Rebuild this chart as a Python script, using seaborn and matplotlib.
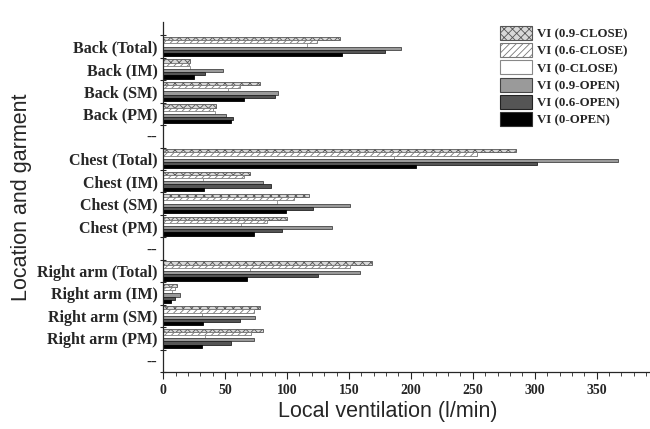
import numpy as np
import pandas as pd
import matplotlib
matplotlib.use("Agg")
import matplotlib.pyplot as plt
import seaborn as sns
from matplotlib.patches import Patch
from matplotlib.ticker import MultipleLocator
from matplotlib.font_manager import FontProperties

nan = np.nan

labels = ["Back (Total)", "Back (IM)", "Back (SM)", "Back (PM)", "--",
          "Chest (Total)", "Chest (IM)", "Chest (SM)", "Chest (PM)", "--",
          "Right arm (Total)", "Right arm (IM)", "Right arm (SM)", "Right arm (PM)", "--"]

series = ["VI (0.9-CLOSE)", "VI (0.6-CLOSE)", "VI (0-CLOSE)",
          "VI (0.9-OPEN)", "VI (0.6-OPEN)", "VI (0-OPEN)"]

vi_09_close = [143, 22, 78, 43, nan, 285, 70, 118, 100, nan, 169, 11, 78, 81, nan]
vi_06_close = [124, 21, 62, 40, nan, 253, 65, 106, 84, nan, 151, 9.5, 73, 71, nan]
vi_0_close = [116, 22, 52, 42, nan, 186, 32, 92, 63, nan, 70, 7.5, 31, 34, nan]
vi_09_open = [192, 48, 93, 51, nan, 367, 81, 151, 136, nan, 159, 13.5, 74, 73, nan]
vi_06_open = [179, 34, 90, 56, nan, 302, 87, 121, 96, nan, 125, 9.5, 62, 55, nan]
vi_0_open = [144, 25, 65, 55, nan, 204, 33, 99, 73, nan, 68, 6, 32, 31, nan]

values = [vi_09_close, vi_06_close, vi_0_close, vi_09_open, vi_06_open, vi_0_open]

rows = []
for name, vals in zip(series, values):
    for i, v in enumerate(vals):
        rows.append({"pos": i, "series": name, "value": v})
df = pd.DataFrame(rows)

# fill, hatch, edge for each series
styles = [
    ("#d8d8d8", "xxxx", "#555555"),
    ("#ffffff", "/////", "#777777"),
    ("#ffffff", "", "#888888"),
    ("#9a9a9a", "", "#444444"),
    ("#555555", "", "#222222"),
    ("#000000", "", "#000000"),
]

sns.set_style("ticks")
plt.rcParams["hatch.linewidth"] = 0.6

fig = plt.figure(figsize=(6.5, 4.29), dpi=100)
ax = fig.add_axes([0.251, 0.133, 0.747, 0.816])

sns.barplot(data=df, y="pos", x="value", hue="series", hue_order=series,
            order=list(range(len(labels))), orient="h", width=0.85,
            palette=[s[0] for s in styles], legend=False, ax=ax)

for cont, (fc, hatch, ec) in zip(ax.containers, styles):
    for p in cont.patches:
        p.set_facecolor(fc)
        p.set_edgecolor(ec)
        p.set_hatch(hatch)
        p.set_linewidth(0.6)

ax.set_xlim(0, 392)
ax.set_ylim(len(labels) - 0.5, -1.1)

serif = dict(family="Liberation Serif", weight="bold", size=11.5)
ax.set_yticks(range(len(labels)))
ax.set_yticklabels(labels, fontdict=serif)
ax.tick_params(axis="y", which="major", length=0, pad=4)
ax.set_yticks(np.arange(-0.5, len(labels), 1.0), minor=True)
ax.tick_params(axis="y", which="minor", length=5, direction="inout", width=0.8)

ax.xaxis.set_major_locator(MultipleLocator(50))
ax.xaxis.set_minor_locator(MultipleLocator(10))
ax.tick_params(axis="x", which="major", length=5, direction="out", width=0.8)
ax.tick_params(axis="x", which="minor", length=3, direction="out", width=0.6)
for t in ax.get_xticklabels():
    t.set_fontproperties(FontProperties(family="Liberation Serif", weight="bold", size=10))

sns.despine(ax=ax)
for s in ["left", "bottom"]:
    ax.spines[s].set_linewidth(0.9)

ax.set_xlabel("Local ventilation (l/min)", family="Liberation Sans", size=15.5, labelpad=3)
ax.xaxis.label.set_x(0.462)
ax.set_ylabel("Location and garment", family="Liberation Sans", size=15.5, labelpad=4)

handles = [Patch(facecolor=fc, edgecolor=ec if ec != "#000000" else "#333333",
                 hatch=h, linewidth=0.8) for fc, h, ec in styles]
fig.legend(handles, series, loc="upper left", frameon=False,
           prop=dict(family="Liberation Serif", weight="bold", size=9.3),
           handlelength=2.5, handleheight=1.3, labelspacing=0.22,
           handletextpad=0.4, borderpad=0.0, borderaxespad=0.0,
           bbox_to_anchor=(500 / 650, 1 - 26 / 429))

fig.savefig("out.png", dpi=100)
